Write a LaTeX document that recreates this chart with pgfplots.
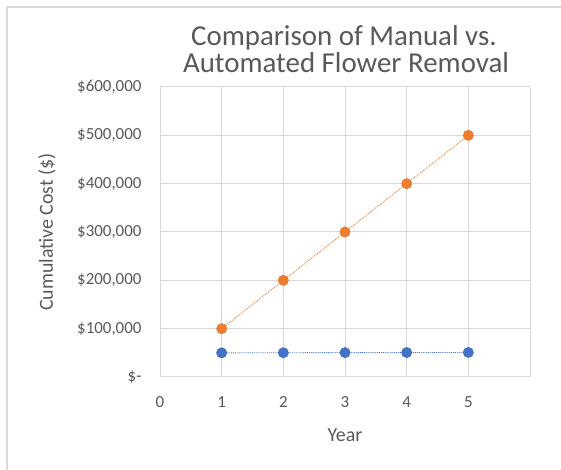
\documentclass[border=0pt]{standalone}
\usepackage{pgfplots}
\pgfplotsset{compat=1.18}
\usepackage{fontspec}
\setmainfont{Carlito}
\definecolor{txt}{HTML}{595959}
\definecolor{grd}{HTML}{D9D9D9}
\definecolor{morange}{HTML}{ED7D31}
\definecolor{mblue}{HTML}{4472C4}
\begin{document}
\begin{tikzpicture}[x=1bp,y=1bp]
\useasboundingbox (0,0) rectangle (561,470);
\draw[grd, line width=1.2bp] (7,0) -- (7,463) -- (561,463);
\begin{axis}[
  at={(160bp,93bp)}, anchor=south west,
  scale only axis, width=370bp, height=290bp,
  xmin=0, xmax=6, ymin=0, ymax=600000,
  scaled y ticks=false,
  xtick={0,1,2,3,4,5,6}, xticklabels={0,1,2,3,4,5,{}},
  ytick={0,100000,200000,300000,400000,500000,600000},
  yticklabels={\$-,{\$100,000},{\$200,000},{\$300,000},{\$400,000},{\$500,000},{\$600,000}},
  grid=major, major grid style={grd, line width=1bp},
  axis line style={grd, line width=1bp},
  axis x line*=bottom, axis y line*=left,
  y axis line style={draw=none},
  tick style={draw=none},
  ticklabel style={font=\fontsize{17}{19}\selectfont, text=txt},
  xticklabel style={yshift=-16bp},
  yticklabel style={xshift=-15bp},
  xlabel={Year},
  label style={font=\fontsize{20}{22}\selectfont, text=txt},
  xlabel style={at={(axis description cs:0.5,0)}, anchor=center, yshift=-58bp},
  clip=false,
]
\addplot[color=morange, line width=0.9bp, densely dotted, mark=*, mark size=5bp, mark options={solid, fill=morange, draw=morange}]
  coordinates {(1,100000) (2,200000) (3,300000) (4,400000) (5,500000)};
\addplot[color=mblue, line width=0.9bp, densely dotted, mark=*, mark size=5bp, mark options={solid, fill=mblue, draw=mblue}]
  coordinates {(1,50000) (2,50200) (3,50400) (4,50600) (5,50800)};
\end{axis}
\node[text=txt, font=\fontsize{20}{22}\selectfont, rotate=90] at (47,238) {Cumulative Cost (\$)};
\node[text=txt, font=\fontsize{29}{32}\selectfont, anchor=base] at (344,424) {Comparison of Manual vs.};
\node[text=txt, font=\fontsize{29}{32}\selectfont, anchor=base] at (346,397) {Automated Flower Removal};
\end{tikzpicture}
\end{document}
